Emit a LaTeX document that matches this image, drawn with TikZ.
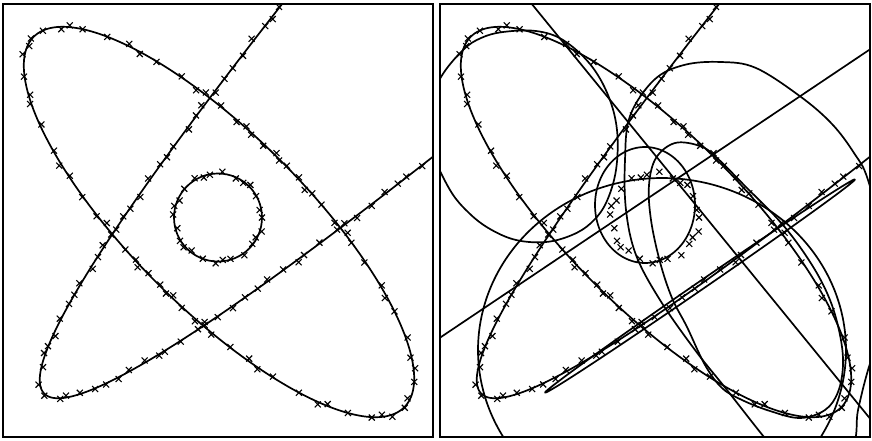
\documentclass[tikz,border=0pt]{standalone}
\newcommand\xmk[2]{\draw[mk] (#1-3,#2-3) -- (#1+3,#2+3) (#1-3,#2+3) -- (#1+3,#2-3);}
\newcommand\curveA{\draw[cv] plot[domain=0:360,samples=240,smooth] ({219+262*cos(\x)*0.7071-87*sin(\x)*0.7071},{222+262*cos(\x)*0.7071+87*sin(\x)*0.7071});}
\newcommand\curveB{\draw[cv] plot[domain=-130:130,samples=200,smooth] ({219+((\x)/26*(\x)-247+(\x))*0.7071},{219+((\x)-(\x)/26*(\x)+247)*0.7071});}
\newcommand\marksA{\foreach \i in {0,...,71}{
  \pgfmathsetmacro\mS{\i*5+1.5*sin(\i*97)}
  \pgfmathsetmacro\mT{\mS+14.5*sin(2*\mS)}
  \pgfmathsetmacro\mO{2.2*sin(\i*131)+0.8*cos(\i*53)}
  \pgfmathsetmacro\mX{219+(262+\mO)*cos(\mT)*0.7071-(87+\mO)*sin(\mT)*0.7071}
  \pgfmathsetmacro\mY{222+(262+\mO)*cos(\mT)*0.7071+(87+\mO)*sin(\mT)*0.7071}
  \xmk{\mX}{\mY}}}
\newcommand\marksB{\foreach \i in {-34,...,34}{
  \pgfmathsetmacro\mL{abs(\i)*15+3*sin(\i*97)}
  \pgfmathsetmacro\mT{sign(\i)*1.1*(sqrt(26*\mL+169)-13)}
  \pgfmathsetmacro\mX{219+((\mT)/26*(\mT)-247+(\mT))*0.7071+2*sin(\i*131)}
  \pgfmathsetmacro\mY{219+((\mT)-(\mT)/26*(\mT)+247)*0.7071+2*cos(\i*71)}
  \xmk{\mX}{\mY}}}
\newcommand\marksC{\foreach \i in {0,...,25}{
  \pgfmathsetmacro\mT{\i*13.846+4*sin(\i*89)}
  \pgfmathsetmacro\mO{44+2*sin(\i*113)}
  \pgfmathsetmacro\mX{218+\mO*cos(\mT)}
  \pgfmathsetmacro\mY{217.5+\mO*sin(\mT)}
  \xmk{\mX}{\mY}}}
\begin{document}
\begin{tikzpicture}[x=1pt,y=-1pt,
  cv/.style={line width=1.7pt,line join=round},
  frm/.style={line width=2.2pt},
  mk/.style={line width=1.1pt}]
\useasboundingbox (0,0) rectangle (872,440);
\fill[white] (0,0) rectangle (872,440);
% left panel
\begin{scope}
  \clip (3,4) rectangle (433,437);
  \curveA
  \curveB
  \draw[cv] (218,217.5) circle[radius=44];
  \marksA
  \marksB
  \marksC
\end{scope}
\draw[frm] (3,4) rectangle (433,437);
% right panel
\begin{scope}
  \clip (440,4) rectangle (870,437);
  \begin{scope}[shift={(437,0)}]
    \curveA
    \curveB
    \marksA
    \marksB
    \marksC
  \end{scope}
  % small ellipse near circle
  \draw[cv] plot[domain=0:360,samples=120,smooth] ({645+50*cos(\x)},{205+58*sin(\x)});
  % large lower ellipse
  \draw[cv] plot[domain=0:360,samples=200,smooth] ({662+184*cos(\x)},{350+172*sin(\x)});
  % thin band
  \draw[cv] plot[domain=0:360,samples=200,smooth] ({700+188*cos(\x)*0.824+4*sin(\x)*0.567},{286-188*cos(\x)*0.567+4*sin(\x)*0.824});
  % straight lines
  \draw[cv] (531,3) -- (872,421);
  \draw[cv] (438,339) -- (872,48);
  % left ellipse
  \draw[cv] plot[smooth cycle,tension=0.6] coordinates {(441,77) (463,50) (481,38) (503,32) (536,31) (563,40) (590,64) (608,95) (617,130) (616,170) (606,203) (591,223) (572,235) (546,242) (516,240) (490,229) (469,213) (450,190) (432,150) (428,110)};
  % big upper-right curve
  \draw[cv] plot[smooth cycle,tension=0.6] coordinates {(630,116) (654,80) (684,65) (721,62) (756,68) (801,97) (832,124) (854,153) (868,180) (885,250) (884,320) (868,370) (858,410) (850,450) (800,480) (764,437) (727,390) (695,350) (660,300) (636,255) (626,210) (625,160)};
  % tall tilted ellipse
  \draw[cv] plot[smooth cycle,tension=0.6] coordinates {(675,143) (700,146) (716,157) (745,186) (783,225) (812,265) (830,300) (840,335) (843,365) (838,392) (825,410) (800,418) (770,411) (742,400) (722,388) (705,365) (687,327) (672,298) (660,262) (651,220) (649,185) (656,158)};
\end{scope}
\draw[frm] (440,4) rectangle (870,437);
\end{tikzpicture}
\end{document}
